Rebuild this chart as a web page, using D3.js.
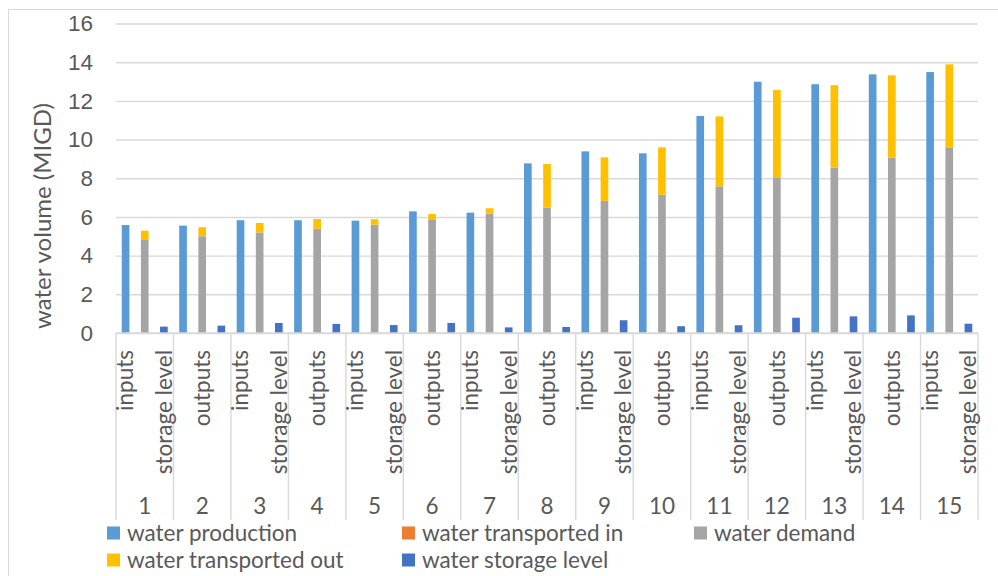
<!DOCTYPE html>
<html>
<head>
<meta charset="utf-8">
<script src="https://cdn.jsdelivr.net/npm/d3@7"></script>
<style>
  html, body { margin: 0; padding: 0; background: #fff; }
  svg { display: block; font-family: Lato, "Open Sans", sans-serif; }
</style>
</head>
<body>
<svg id="chart" width="998" height="576"></svg>
<script>
// Period numbers along the outer category level
const groupLabels = ["1","2","3","4","5","6","7","8","9","10","11","12","13","14","15"];
// Inner category level inside each period
const subCategories = ["inputs", "outputs", "storage level"];
// Series values (MIGD) per period
const waterProduction     = [5.58, 5.55, 5.83, 5.83, 5.81, 6.29, 6.22, 8.77, 9.39, 9.29, 11.22, 12.99, 12.86, 13.37, 13.49];
const waterTransportedIn  = [0, 0, 0, 0, 0, 0, 0, 0, 0, 0, 0, 0, 0, 0, 0];
const waterDemand         = [4.81, 5.00, 5.20, 5.39, 5.60, 5.88, 6.17, 6.48, 6.83, 7.15, 7.58, 8.05, 8.55, 9.06, 9.60];
const waterTransportedOut = [0.48, 0.47, 0.49, 0.50, 0.28, 0.27, 0.28, 2.26, 2.25, 2.45, 3.62, 4.51, 4.26, 4.26, 4.29];
const waterStorageLevel   = [0.33, 0.38, 0.52, 0.47, 0.41, 0.52, 0.29, 0.31, 0.66, 0.35, 0.40, 0.79, 0.86, 0.91, 0.48];
// Value axis ticks
const yTicks = [0, 2, 4, 6, 8, 10, 12, 14, 16];

const seriesNames = ["water production", "water transported in", "water demand", "water transported out", "water storage level"];
const seriesColors = ["#5B9BD5", "#ED7D31", "#A5A5A5", "#FFC000", "#4472C4"];
const seriesData = [waterProduction, waterTransportedIn, waterDemand, waterTransportedOut, waterStorageLevel];
// Which inner category each series stacks on
const seriesSub = ["inputs", "inputs", "outputs", "outputs", "storage level"];

// One row per (period, inner category) with a value for every series
const rows = [];
groupLabels.forEach((g, gi) => {
  subCategories.forEach(s => {
    const row = { key: g + "|" + s, group: g, sub: s };
    seriesNames.forEach((name, si) => {
      row[name] = seriesSub[si] === s ? seriesData[si][gi] : 0;
    });
    rows.push(row);
  });
});

const svg = d3.select("#chart");
const textColor = "#595959";
const gridColor = "#D9D9D9";
const fontSize = 22.5;

const plot = { left: 116, right: 978, top: 23.5, bottom: 333 };

const x = d3.scaleBand()
  .domain(rows.map(r => r.key))
  .range([plot.left, plot.right])
  .paddingInner(0.6)
  .paddingOuter(0.3);

const y = d3.scaleLinear().domain([0, 16]).range([plot.bottom, plot.top]);

// Chart frame
svg.append("rect")
  .attr("x", 8.5).attr("y", 9.5)
  .attr("width", 1100).attr("height", 700)
  .attr("fill", "none").attr("stroke", gridColor).attr("stroke-width", 1);

// Gridlines and value labels
const yAxis = d3.axisLeft(y).tickValues(yTicks).tickSize(-(plot.right - plot.left)).tickPadding(23);
const gy = svg.append("g").attr("transform", `translate(${plot.left},0)`).call(yAxis);
gy.select(".domain").remove();
gy.selectAll(".tick line").attr("stroke", gridColor).attr("stroke-width", 1.4);
gy.selectAll(".tick text")
  .attr("fill", textColor).style("font-size", fontSize + "px").style("font-family", "inherit");

// Stacked columns
const stack = d3.stack().keys(seriesNames);
const layers = stack(rows);
svg.append("g").selectAll("g")
  .data(layers)
  .join("g")
  .attr("fill", (d, i) => seriesColors[i])
  .selectAll("rect")
  .data(d => d.filter(p => p[1] - p[0] > 0))
  .join("rect")
  .attr("x", d => x(d.data.key))
  .attr("width", x.bandwidth())
  .attr("y", d => y(d[1]))
  .attr("height", d => y(d[0]) - y(d[1]));

// Category axis line
svg.append("line")
  .attr("x1", plot.left).attr("x2", plot.right)
  .attr("y1", plot.bottom).attr("y2", plot.bottom)
  .attr("stroke", gridColor).attr("stroke-width", 1.4);

// Period separators spanning both label levels
const groupWidth = x.step() * subCategories.length;
const sepBottom = 520;
svg.append("g").selectAll("line")
  .data(d3.range(groupLabels.length + 1))
  .join("line")
  .attr("x1", i => plot.left + i * groupWidth)
  .attr("x2", i => plot.left + i * groupWidth)
  .attr("y1", plot.bottom).attr("y2", sepBottom)
  .attr("stroke", gridColor).attr("stroke-width", 1.4);

// Inner labels: every second one, rotated
svg.append("g").selectAll("text")
  .data(rows.filter((r, i) => i % 2 === 0))
  .join("text")
  .attr("transform", d => `translate(${x(d.key) + x.bandwidth() / 2},350) rotate(-90)`)
  .attr("text-anchor", "end")
  .attr("dy", "0.35em")
  .attr("fill", textColor)
  .style("font-size", fontSize + "px")
  .text(d => d.sub);

// Period labels
svg.append("g").selectAll("text")
  .data(groupLabels)
  .join("text")
  .attr("x", (d, i) => plot.left + (i + 0.5) * groupWidth)
  .attr("y", 506)
  .attr("dy", "0.35em")
  .attr("text-anchor", "middle")
  .attr("fill", textColor)
  .style("font-size", fontSize + "px")
  .text(d => d);

// Value axis title
svg.append("text")
  .attr("transform", "translate(43,216) rotate(-90)")
  .attr("text-anchor", "middle")
  .attr("dy", "0.35em")
  .attr("fill", textColor)
  .style("font-size", "24px")
  .text("water volume (MIGD)");

// Legend
const legendPos = [[107, 533], [402, 533], [694, 533], [107, 560], [402, 560]];
const legend = svg.append("g").selectAll("g")
  .data(seriesNames)
  .join("g")
  .attr("transform", (d, i) => `translate(${legendPos[i][0]},${legendPos[i][1]})`);
legend.append("rect")
  .attr("x", 0).attr("y", -6.5).attr("width", 13).attr("height", 13)
  .attr("fill", (d, i) => seriesColors[i]);
legend.append("text")
  .attr("x", 20).attr("dy", "0.35em")
  .attr("fill", textColor)
  .style("font-size", fontSize + "px")
  .text(d => d);
</script>
</body>
</html>
